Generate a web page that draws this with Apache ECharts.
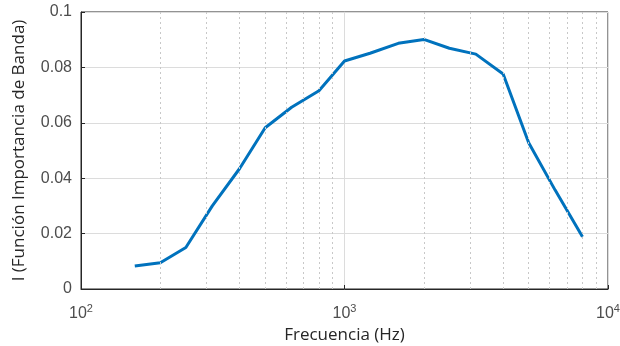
<!DOCTYPE html>
<html>
<head>
<meta charset="utf-8">
<script src="https://cdn.jsdelivr.net/npm/echarts@6/dist/echarts.min.js"></script>
<style>
html, body { margin: 0; padding: 0; background: #fff; }
#chart { width: 620px; height: 346px; }
</style>
</head>
<body>
<div id="chart"></div>
<script>
// frecuencias de banda (1/3 octava)
var freqs = [160, 200, 250, 315, 400, 500, 630, 800, 1000, 1250, 1600, 2000, 2500, 3150, 4000, 5000, 6300, 8000]
// importancia de banda
var importance = [0.0083, 0.0095, 0.015, 0.030, 0.0435, 0.0582, 0.0656, 0.0716, 0.0823, 0.0851, 0.0887, 0.0901, 0.0869, 0.0848, 0.0776, 0.0528, 0.0357, 0.0189]
// lineas menores de la rejilla
var minorTicks = [200, 300, 400, 500, 600, 700, 800, 900, 2000, 3000, 4000, 5000, 6000, 7000, 8000, 9000]
var yTicks = [0, 0.02, 0.04, 0.06, 0.08, 0.1]

var chart = echarts.init(document.getElementById('chart'))
var option = {
  backgroundColor: '#fff',
  animation: false,
  grid: {
    left: 81,
    right: 12,
    top: 12,
    bottom: 57,
    outerBoundsMode: 'none',
    containLabel: false,
    show: true,
    borderColor: '#262626',
    borderWidth: 1
  },
  xAxis: {
    type: 'log',
    logBase: 10,
    min: 100,
    max: 10000,
    name: 'Frecuencia (Hz)',
    nameLocation: 'middle',
    nameGap: 36,
    nameTextStyle: { fontFamily: 'Open Sans', fontSize: 17, color: '#262626' },
    axisLine: { show: true, lineStyle: { color: '#262626' } },
    axisTick: { show: true, inside: true, length: 4, lineStyle: { color: '#262626' } },
    splitLine: { show: true, lineStyle: { color: '#dcdcdc', width: 1 } },
    axisLabel: {
      margin: 14,
      formatter: function (v) {
        return '{b|10}{s|' + Math.round(Math.log10(v)) + '}'
      },
      rich: {
        b: { fontFamily: 'Liberation Sans', fontSize: 16, color: '#4d4d4d' },
        s: { fontFamily: 'Liberation Sans', fontSize: 11, color: '#4d4d4d', verticalAlign: 'top', padding: [0, 0, 10, 0] }
      }
    }
  },
  yAxis: {
    type: 'value',
    min: yTicks[0],
    max: yTicks[yTicks.length - 1],
    interval: 0.02,
    name: 'I (Función Importancia de Banda)',
    nameLocation: 'middle',
    nameGap: 53,
    nameTextStyle: { fontFamily: 'Open Sans', fontSize: 17, color: '#262626' },
    axisLine: { show: true, lineStyle: { color: '#262626' } },
    axisTick: { show: true, inside: true, length: 4, lineStyle: { color: '#262626' } },
    splitLine: { show: true, lineStyle: { color: '#dcdcdc', width: 1 } },
    axisLabel: {
      margin: 9,
      fontFamily: 'Liberation Sans',
      fontSize: 16,
      color: '#4d4d4d'
    }
  },
  series: [{
    type: 'line',
    data: [],
    z: 1,
    silent: true,
    markLine: {
      silent: true,
      symbol: 'none',
      label: { show: false },
      lineStyle: { type: [2, 3], color: '#c8c8c8', width: 1 },
      data: minorTicks.map(function (f) { return { xAxis: f } })
    }
  }, {
    type: 'line',
    z: 3,
    showSymbol: false,
    smooth: false,
    lineStyle: { color: '#0072BD', width: 3 },
    data: freqs.map(function (f, i) { return [f, importance[i]] })
  }]
}
chart.setOption(option)
</script>
</body>
</html>
